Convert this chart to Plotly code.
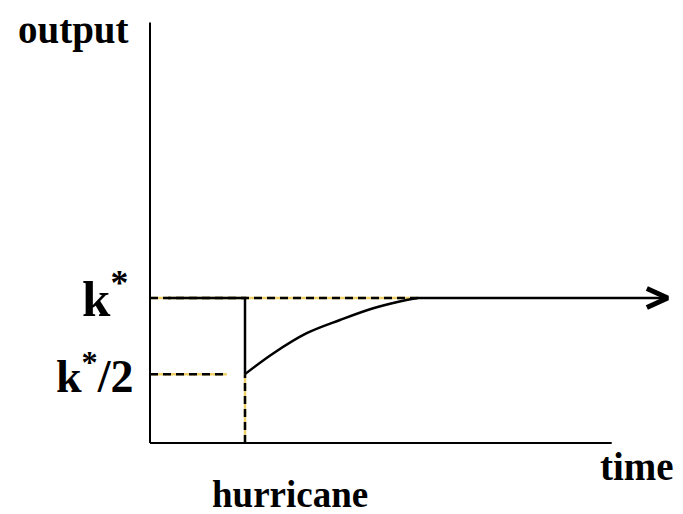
import plotly.graph_objects as go

# ---- data (output relative to k* = 1, time in arbitrary units; hurricane at t = 1) ----
k_star = 1.0
k_half = 0.475
t_hurricane = 1.0
t_recovered = 2.82
t_pre_start = 0.19
t_arrow_end = 5.45
t_half_dash_end = 0.81
curve_t = [1.0, 1.30, 1.65, 2.0, 2.35, 2.70, 2.82]
curve_y = [0.475, 0.619, 0.757, 0.848, 0.929, 0.986, 1.0]
axis_x_end = 4.86
axis_y_end = 2.90
labels = {"y": "output", "x": "time", "event": "hurricane",
          "kstar": "k<sup>*</sup>", "khalf": "k<sup>*</sup>/2"}

# the page body has an 8px margin, so the figure is drawn 8px in and down
OFF = 8
W, H = 683 - OFF, 514 - OFF
X0, Y0 = 150 - OFF, 443 - OFF   # pixel position of the origin inside the figure
SX, SY = 95, 145                # pixels per unit
x_range = [(0 - X0) / SX, (W - X0) / SX]
y_range = [(Y0 - H) / SY, Y0 / SY]

YEL = "#EFD36A"
BLK = "black"

fig = go.Figure()

def dashed(xs, ys):
    fig.add_trace(go.Scatter(x=xs, y=ys, mode="lines",
                             line=dict(color=YEL, width=2.5), hoverinfo="skip"))
    fig.add_trace(go.Scatter(x=xs, y=ys, mode="lines",
                             line=dict(color=BLK, width=2.5, dash="8px,5px"), hoverinfo="skip"))

# dashed guide lines
dashed([0, t_recovered], [k_star, k_star])
dashed([0, t_half_dash_end], [k_half, k_half])
dashed([t_hurricane, t_hurricane], [0, k_half])

# axes
fig.add_trace(go.Scatter(x=[0, 0], y=[0, axis_y_end], mode="lines",
                         line=dict(color=BLK, width=2), hoverinfo="skip"))
fig.add_trace(go.Scatter(x=[0, axis_x_end], y=[0, 0], mode="lines",
                         line=dict(color=BLK, width=2), hoverinfo="skip"))

# output path
fig.add_trace(go.Scatter(x=[t_pre_start, t_hurricane, t_hurricane],
                         y=[k_star, k_star, k_half], mode="lines",
                         line=dict(color=BLK, width=2.5), hoverinfo="skip"))
fig.add_trace(go.Scatter(x=curve_t, y=curve_y, mode="lines",
                         line=dict(color=BLK, width=2.5, shape="spline"), hoverinfo="skip"))
fig.add_trace(go.Scatter(x=[t_recovered, t_arrow_end], y=[k_star, k_star], mode="lines",
                         line=dict(color=BLK, width=2.5), hoverinfo="skip"))
# arrow head
fig.add_trace(go.Scatter(x=[t_arrow_end - 0.22, t_arrow_end, t_arrow_end - 0.22],
                         y=[k_star + 0.065, k_star, k_star - 0.065], mode="lines",
                         line=dict(color=BLK, width=5), hoverinfo="skip"))

font = "Liberation Serif, Times New Roman, serif"

def label(text, px, py, size):
    fig.add_annotation(x=(px - OFF) / W, y=1 - (py - OFF) / H, xref="paper", yref="paper",
                       text="<b>" + text + "</b>", showarrow=False,
                       xanchor="center", yanchor="middle",
                       font=dict(family=font, size=size, color=BLK))

label(labels["y"], 73, 30, 39)
label(labels["kstar"], 105, 295, 51)
label(labels["khalf"], 94, 373, 46)
label(labels["x"], 637, 466, 39)
label(labels["event"], 290, 494, 37)

fig.update_layout(width=W, height=H, margin=dict(l=0, r=0, t=0, b=0),
                  plot_bgcolor="white", paper_bgcolor="white", showlegend=False,
                  xaxis=dict(range=x_range, visible=False, fixedrange=True),
                  yaxis=dict(range=y_range, visible=False, fixedrange=True))

fig.write_html("out.html")
